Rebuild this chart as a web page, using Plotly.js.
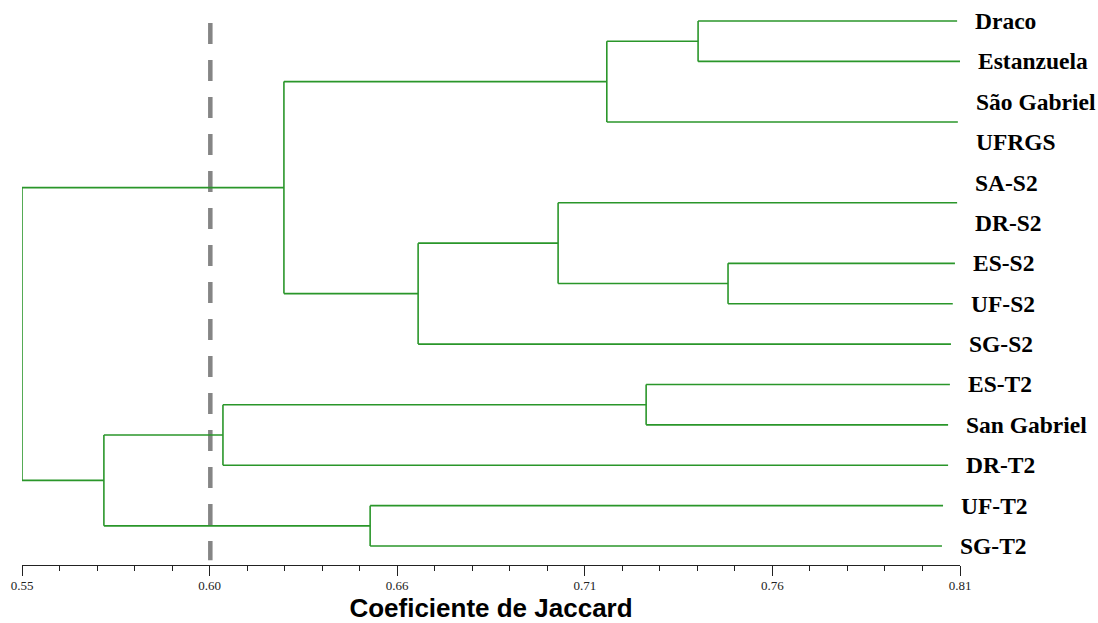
<!DOCTYPE html>
<html>
<head>
<meta charset="utf-8">
<script src="https://cdn.plot.ly/plotly-3.0.1.min.js"></script>
<style>html,body{margin:0;padding:0;background:#fff;}#chart{width:1098px;height:623px;}</style>
</head>
<body>
<div id="chart"></div>
<script>
// Leaves (top to bottom)
const leafLabels = ["Draco","Estanzuela","São Gabriel","UFRGS","SA-S2","DR-S2","ES-S2","UF-S2","SG-S2","ES-T2","San Gabriel","DR-T2","UF-T2","SG-T2"];
// where each leaf branch ends (similarity)
const leafEnd = [0.8092,0.8100,0.8094,0.8094,0.8092,0.8092,0.8086,0.8080,0.8075,0.8072,0.8067,0.8067,0.8053,0.8050];
// merges: child A, child B (leaf index or 14+merge index), Jaccard similarity
const mergeA = [0, 2, 14, 4, 6, 17, 19, 16, 9, 22, 12, 23, 21];
const mergeB = [1, 3, 15, 5, 7, 18, 8, 20, 10, 11, 13, 24, 25];
const mergeH = [0.7374, 0.8094, 0.7121, 0.8092, 0.7457, 0.6986, 0.6598, 0.6226, 0.7230, 0.6057, 0.6465, 0.5727, 0.55];
// axis ticks
const tickVals = [0.55, 0.602, 0.654, 0.706, 0.758, 0.81];
const tickText = ["0.55", "0.60", "0.66", "0.71", "0.76", "0.81"];
const cutoff = 0.6022;
const xTitle = "Coeficiente de Jaccard";

const nodeY = leafLabels.map((_, i) => -i);
const nodeH = leafEnd.slice();
for (let k = 0; k < mergeA.length; k++) {
  nodeY.push((nodeY[mergeA[k]] + nodeY[mergeB[k]]) / 2);
  nodeH.push(mergeH[k]);
}
const xs = [], ys = [];
for (let k = 0; k < mergeA.length; k++) {
  const h = mergeH[k], a = mergeA[k], b = mergeB[k];
  [a, b].forEach(c => {
    if (nodeH[c] - h > 0.0005) { xs.push(h, nodeH[c], null); ys.push(nodeY[c], nodeY[c], null); }
  });
  if (h < 0.805) { xs.push(h, h, null); ys.push(nodeY[a], nodeY[b], null); }
}

const traces = [
  {x: [cutoff, cutoff], y: [-0.05, -13.35], mode: 'lines', hoverinfo: 'skip',
   line: {color: '#858585', width: 4.5, dash: '21px,16px'}},
  {x: xs, y: ys, mode: 'lines', hoverinfo: 'skip', line: {color: '#2a962a', width: 1.6}}
];

const annotations = leafLabels.map((t, i) => ({
  x: leafEnd[i], y: -i, xref: 'x', yref: 'y', text: '<b>' + t + '</b>', showarrow: false,
  xanchor: 'left', yanchor: 'middle', xshift: 16, yshift: 0,
  font: {family: 'Liberation Serif, Times New Roman, serif', size: 23.5, color: '#000'}
}));

const layout = {
  width: 1098, height: 623,
  margin: {l: 22, r: 138, t: 5, b: 58},
  paper_bgcolor: '#fff', plot_bgcolor: '#fff',
  showlegend: false,
  xaxis: {
    range: [0.55, 0.81], tickmode: 'array', tickvals: tickVals, ticktext: tickText,
    showgrid: false, zeroline: false, showline: true, linecolor: '#222', linewidth: 1,
    ticks: 'outside', ticklen: 10, tickcolor: '#222', tickwidth: 1,
    minor: {tickmode: 'linear', tick0: 0.55, dtick: 0.0104, ticklen: 5, tickcolor: '#222', tickwidth: 1, ticks: 'outside', showgrid: false},
    tickfont: {family: 'Liberation Serif, Times New Roman, serif', size: 13, color: '#222'},
    ticklabelstandoff: -2,
    title: {text: '<b>' + xTitle + '</b>', standoff: 7,
            font: {family: 'Liberation Sans, Arial, sans-serif', size: 26, color: '#000'}},
    fixedrange: true
  },
  yaxis: {range: [-13.47, 0.397], visible: false, showgrid: false, zeroline: false, fixedrange: true},
  annotations: annotations
};

Plotly.newPlot('chart', traces, layout, {displayModeBar: false, staticPlot: true});
</script>
</body>
</html>
